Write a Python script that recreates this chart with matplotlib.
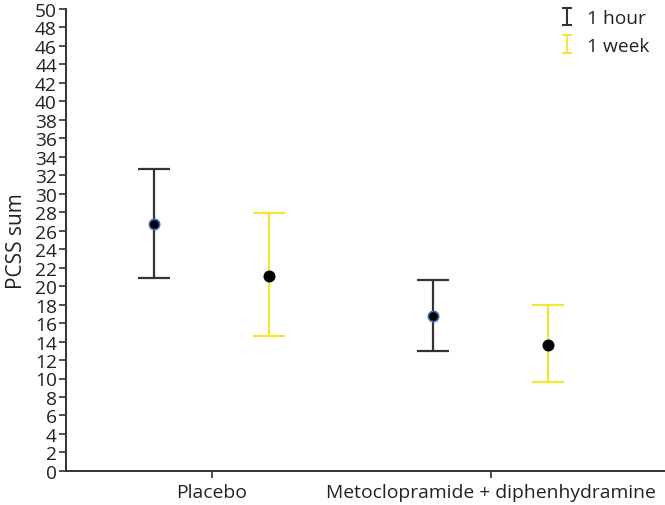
import matplotlib
matplotlib.use("Agg")
import matplotlib.pyplot as plt
import numpy as np
from matplotlib.legend_handler import HandlerErrorbar

plt.rcParams['font.family'] = ['Open Sans', 'DejaVu Sans']

categories = ["Placebo", "Metoclopramide + diphenhydramine"]
series = ["1 hour", "1 week"]
means = {"1 hour": [26.7, 16.8], "1 week": [21.05, 13.65]}
upper = {"1 hour": [32.6, 20.7], "1 week": [27.9, 17.9]}
lower = {"1 hour": [20.9, 13.0], "1 week": [14.6, 9.6]}
yticks = list(range(0, 51, 2))

bar_colors = {"1 hour": "#333333", "1 week": "#f2e534"}
edge_colors = {"1 hour": "#3a6fb0", "1 week": "#000000"}
offsets = {"1 hour": -0.206, "1 week": 0.206}

fig = plt.figure(figsize=(6.65, 5.06), dpi=100)
ax = fig.add_axes([0.0992, 0.0672, 0.9008, 0.9140])

x = np.arange(len(categories))
for s in series:
    m = np.array(means[s])
    up = np.array(upper[s]) - m
    lo = m - np.array(lower[s])
    xs = x + offsets[s]
    ax.errorbar(xs, m, yerr=[lo, up], fmt='none', ecolor=bar_colors[s],
                elinewidth=1.6, capsize=11.5, capthick=1.6, zorder=2)
    ax.scatter(xs, m, s=55, color='black', edgecolors=edge_colors[s],
               linewidths=1.2, zorder=3)

# legend proxies (small caps, no marker)
proxies = []
for s in series:
    p = ax.errorbar([np.nan], [np.nan], yerr=[[1.0]], fmt='none', ecolor=bar_colors[s],
                    elinewidth=1.5, capsize=3.8, capthick=1.5)
    proxies.append(p)

ax.set_xlim(-0.522, 1.625)
ax.set_ylim(0, 50)
ax.set_yticks(yticks)
ax.set_yticklabels([str(t) for t in yticks], fontsize=13.8, color='#222222')
ax.set_xticks(x)
ax.set_xticklabels(categories, fontsize=13.9, color='#222222')
ax.set_ylabel("PCSS sum", fontsize=15, color='#222222', labelpad=6)

for sp in ['top', 'right']:
    ax.spines[sp].set_visible(False)
for sp in ['left', 'bottom']:
    ax.spines[sp].set_linewidth(1.4)
    ax.spines[sp].set_color('#333333')
ax.tick_params(axis='both', direction='out', length=5, width=1.2, color='#333333', pad=1.5)
ax.tick_params(axis='x', pad=4)

leg = ax.legend(handles=proxies, labels=series, loc='upper right',
                bbox_to_anchor=(1.003, 1.036), frameon=False, fontsize=13.8,
                handlelength=0.7, handletextpad=0.7, labelspacing=0.5,
                handler_map={type(proxies[0]): HandlerErrorbar(xerr_size=0.5, yerr_size=0.45)})
for t in leg.get_texts():
    t.set_color('#222222')

fig.savefig("out.png", dpi=100)
